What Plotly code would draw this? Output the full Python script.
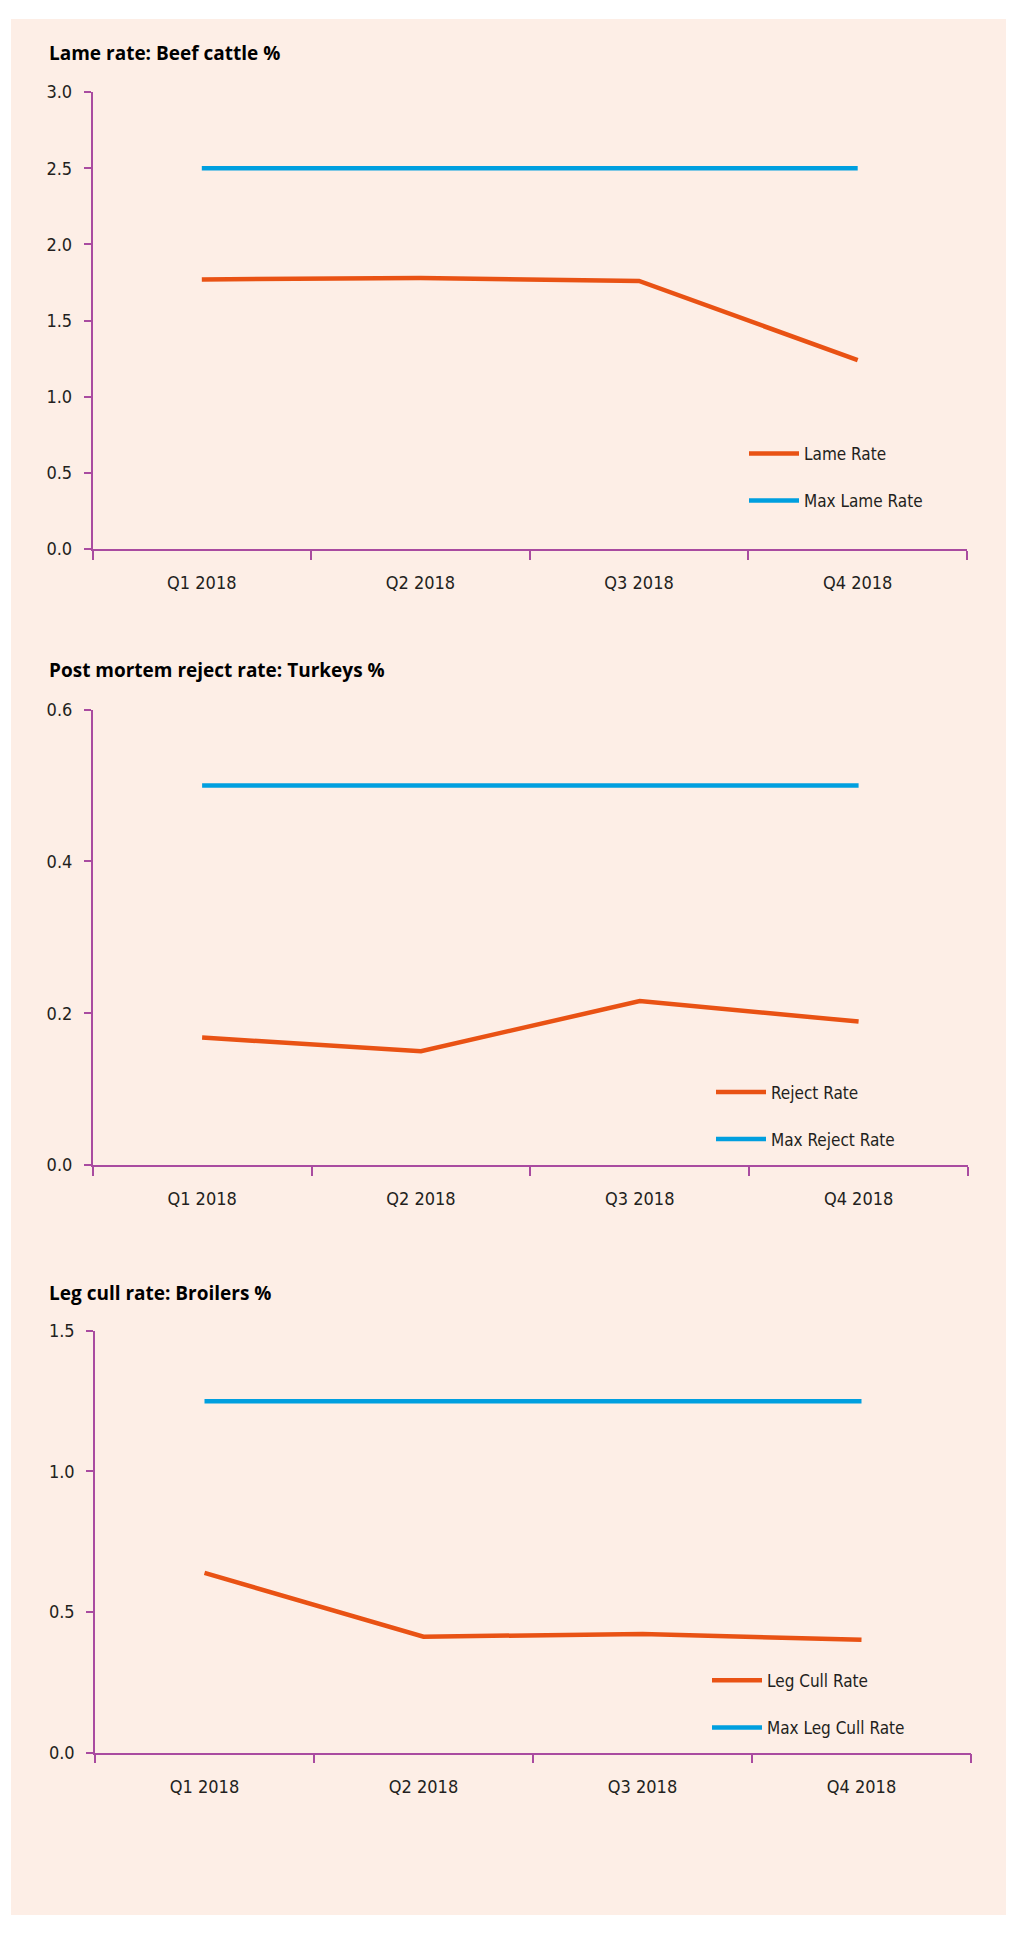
import plotly.graph_objects as go

# Figure size chosen to fit the page; positions below are given in page pixels
# and converted to figure fractions with an empirically calibrated mapping.
W, H = 998, 1917
X_OFF = 8.0
Y_OFF, Y_SCALE = 17.5, 0.99

quarters = ["Q1 2018", "Q2 2018", "Q3 2018", "Q4 2018"]

# Chart 1: Lame rate, beef cattle
lame_rate = [1.77, 1.78, 1.76, 1.24]
max_lame_rate = [2.5, 2.5, 2.5, 2.5]
lame_ticks = [0.0, 0.5, 1.0, 1.5, 2.0, 2.5, 3.0]

# Chart 2: Post mortem reject rate, turkeys
reject_rate = [0.168, 0.150, 0.216, 0.189]
max_reject_rate = [0.5, 0.5, 0.5, 0.5]
reject_ticks = [0.0, 0.2, 0.4, 0.6]

# Chart 3: Leg cull rate, broilers
leg_cull_rate = [0.639, 0.412, 0.422, 0.401]
max_leg_cull_rate = [1.25, 1.25, 1.25, 1.25]
leg_ticks = [0.0, 0.5, 1.0, 1.5]

titles = ["Lame rate: Beef cattle %",
          "Post mortem reject rate: Turkeys %",
          "Leg cull rate: Broilers %"]

ORANGE = "#E95214"
BLUE = "#009FDF"
AXIS = "#A94BA0"
BG = "#FDEEE6"
TXT = "#231F20"
NARROW = "Liberation Sans Narrow, DejaVu Sans Condensed, sans-serif"
TICKFONT = dict(family=NARROW, size=18, color=TXT)


def fy(t):
    return (t - Y_OFF) / Y_SCALE


def px_x(t):
    return min(max((t - X_OFF) / W, 0), 1)


def px_y_fig(f):
    return min(max(1 - f / H, 0), 1)


def px_y(t):
    return px_y_fig(fy(t))


# plot areas in page pixels: (x0, x1, ytop, ybottom)
areas = [
    (92.5, 967, 90.7, 548),
    (92.7, 968, 708.7, 1164.7),
    (95, 971, 1330.7, 1752.7),
]
title_y = [52, 669, 1293]
legend_text_x = [804, 771, 767]
legend_row1_y = [452, 1091, 1680]
ITEMW = 50

panels = [
    (lame_rate, max_lame_rate, "Lame Rate", "Max Lame Rate", lame_ticks, [0, 3.0]),
    (reject_rate, max_reject_rate, "Reject Rate", "Max Reject Rate", reject_ticks, [0, 0.6]),
    (leg_cull_rate, max_leg_cull_rate, "Leg Cull Rate", "Max Leg Cull Rate", leg_ticks, [0, 1.5]),
]

fig = go.Figure()
layout = dict(
    width=W, height=H,
    margin=dict(l=0, r=0, t=0, b=0),
    paper_bgcolor="white",
    plot_bgcolor="rgba(0,0,0,0)",
    showlegend=True,
    shapes=[dict(type="rect", xref="paper", yref="paper",
                 x0=px_x(11), x1=1, y0=0, y1=1,
                 fillcolor=BG, line=dict(width=0), layer="below")],
    annotations=[],
)

for i, (vals, maxv, n1, n2, ticks, rng) in enumerate(panels):
    k = "" if i == 0 else str(i + 1)
    x0, x1, yt, yb = areas[i]
    lg = "legend" if i == 0 else f"legend{i+1}"
    fig.add_trace(go.Scatter(x=quarters, y=vals, mode="lines", name=n1,
                             line=dict(color=ORANGE, width=4.5),
                             xaxis="x" + k, yaxis="y" + k, legend=lg,
                             legendgroup=f"g{i}a"))
    fig.add_trace(go.Scatter(x=quarters, y=maxv, mode="lines", name=n2,
                             line=dict(color=BLUE, width=4.5),
                             xaxis="x" + k, yaxis="y" + k, legend=lg,
                             legendgroup=f"g{i}b"))
    layout["xaxis" + k] = dict(
        domain=[px_x(x0), px_x(x1)], anchor="y" + k,
        type="category", categoryorder="array", categoryarray=quarters,
        range=[-0.5, 3.5], tickson="boundaries",
        showline=True, linecolor=AXIS, linewidth=1.5,
        ticks="outside", ticklen=9, tickcolor=AXIS, tickwidth=1.5,
        showgrid=False, zeroline=False,
        tickfont=TICKFONT, ticklabelstandoff=17,
    )
    layout["yaxis" + k] = dict(
        domain=[px_y(yb), px_y(yt)], anchor="x" + k,
        range=rng, tickvals=ticks, tickformat=".1f",
        showline=True, linecolor=AXIS, linewidth=1.5,
        ticks="outside", ticklen=7, tickcolor=AXIS, tickwidth=1.5,
        showgrid=False, zeroline=False,
        tickfont=TICKFONT, ticklabelstandoff=8,
    )
    layout[lg] = dict(
        x=px_x(legend_text_x[i] - (ITEMW + 10)),
        y=px_y_fig(fy(legend_row1_y[i]) - 17.3),
        xanchor="left", yanchor="top",
        xref="paper", yref="paper",
        bgcolor="rgba(0,0,0,0)", borderwidth=0,
        font=dict(family=NARROW, size=17, color=TXT),
        tracegroupgap=22, traceorder="grouped", itemwidth=ITEMW,
    )
    layout["annotations"].append(dict(
        text="<b>" + titles[i] + "</b>", xref="paper", yref="paper",
        x=px_x(47), y=px_y(title_y[i]), xanchor="left", yanchor="middle",
        showarrow=False,
        font=dict(family="Open Sans, Noto Sans, sans-serif", size=19, color="#000000"),
    ))

fig.update_layout(**layout)
fig.write_html("out.html")
